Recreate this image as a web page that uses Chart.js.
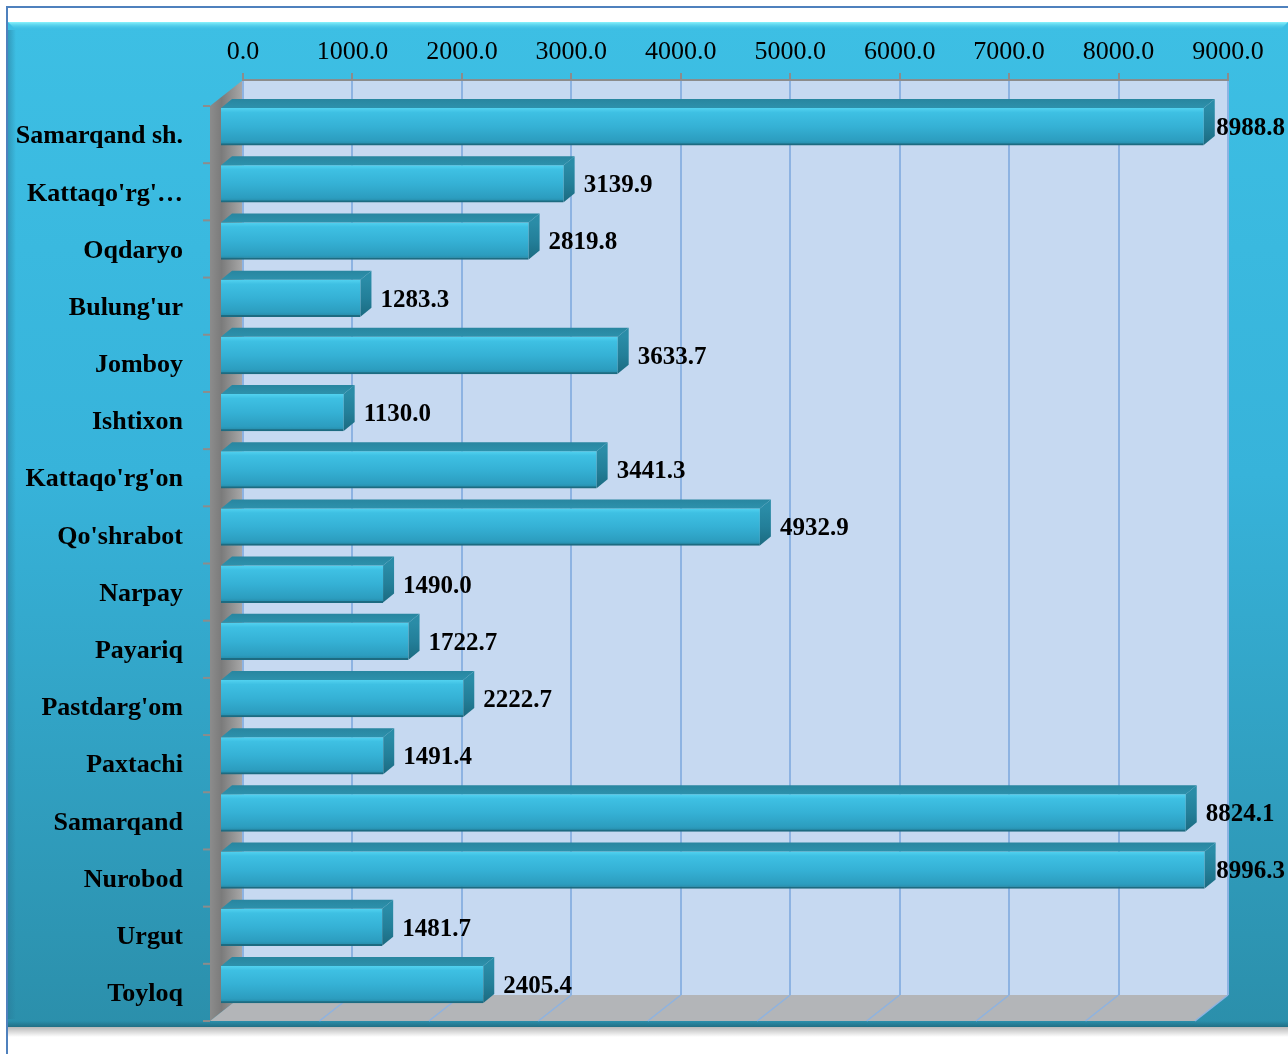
<!DOCTYPE html>
<html><head><meta charset="utf-8">
<script src="https://cdn.jsdelivr.net/npm/chart.js@4.4.1/dist/chart.umd.min.js"></script>
<style>html,body{margin:0;padding:0;background:#fff;overflow:hidden}#wrap{position:relative;width:1288px;height:1054px}</style>
</head><body><div id="wrap"><canvas id="c" width="1288" height="1054"></canvas></div>
<script>
const categories = ["Samarqand sh.","Kattaqo'rg'…","Oqdaryo","Bulung'ur","Jomboy","Ishtixon","Kattaqo'rg'on","Qo'shrabot","Narpay","Payariq","Pastdarg'om","Paxtachi","Samarqand","Nurobod","Urgut","Toyloq"];
const values = [8988.8,3139.9,2819.8,1283.3,3633.7,1130.0,3441.3,4932.9,1490.0,1722.7,2222.7,1491.4,8824.1,8996.3,1481.7,2405.4];
const axisMin = 0, axisMax = 9000, axisStep = 1000;

const SERIF = "'Liberation Serif','Times New Roman',serif";
const WALL_DX = -33, WALL_DY = 26;   // back plane -> front plane
const BAR_DX = -23, BAR_DY = 18;     // back plane -> bar front face
const BD_DX = 11, BD_DY = -9;        // bar depth
const BAR_H = 37;
const LABEL_GAP = 9;

function barGradient(c) {
  const chart = c.chart, ys = chart.scales && chart.scales.y;
  if (!chart.chartArea || !ys || c.dataIndex === undefined) return '#35b2d6';
  const yc = ys.getPixelForValue(c.dataIndex);
  const g = chart.ctx.createLinearGradient(0, yc - BAR_H / 2, 0, yc + BAR_H / 2);
  g.addColorStop(0, '#52d2f0');
  g.addColorStop(0.12, '#3ec0e3');
  g.addColorStop(0.5, '#35b1d5');
  g.addColorStop(0.88, '#2c9dbf');
  g.addColorStop(1, '#2588a5');
  return g;
}

const deco = {
  id: 'deco',
  beforeDraw(chart) {
    const ctx = chart.ctx, W = chart.width, H = chart.height;
    const {left, top, right, bottom} = chart.chartArea;
    const xs = chart.scales.x, ys = chart.scales.y;
    ctx.save();
    ctx.fillStyle = '#fff'; ctx.fillRect(0, 0, W, H);
    // outer frame
    ctx.strokeStyle = '#4f81bd'; ctx.lineWidth = 2;
    ctx.beginPath(); ctx.moveTo(7, H); ctx.lineTo(7, 7); ctx.lineTo(W, 7); ctx.stroke();
    // shadow under box
    const boxTop = 22, boxBot = bottom + WALL_DY + 6, boxL = 8;
    let sg = ctx.createLinearGradient(0, boxBot, 0, boxBot + 10);
    sg.addColorStop(0, 'rgba(0,0,0,0.28)'); sg.addColorStop(1, 'rgba(0,0,0,0)');
    ctx.fillStyle = sg; ctx.fillRect(boxL, boxBot, W - boxL, 10);
    // cyan box
    const g = ctx.createLinearGradient(0, boxTop, 0, boxBot);
    g.addColorStop(0, '#3dbfe4'); g.addColorStop(0.45, '#37b3da'); g.addColorStop(1, '#2b8fab');
    ctx.fillStyle = g; ctx.fillRect(boxL, boxTop, W - boxL, boxBot - boxTop);
    // top bevel
    const tb = ctx.createLinearGradient(0, boxTop, 0, boxTop + 8);
    tb.addColorStop(0, '#8af4fd'); tb.addColorStop(1, 'rgba(61,191,228,0)');
    ctx.fillStyle = tb;
    ctx.beginPath(); ctx.moveTo(boxL, boxTop); ctx.lineTo(W, boxTop); ctx.lineTo(W - 8, boxTop + 8); ctx.lineTo(boxL + 8, boxTop + 8); ctx.closePath(); ctx.fill();
    // left bevel
    const lb = ctx.createLinearGradient(boxL, 0, boxL + 8, 0);
    lb.addColorStop(0, 'rgba(40,120,150,0.5)'); lb.addColorStop(1, 'rgba(40,120,150,0)');
    ctx.fillStyle = lb; ctx.fillRect(boxL, boxTop + 8, 8, boxBot - boxTop - 16);
    // bottom edge
    const be = ctx.createLinearGradient(0, boxBot - 6, 0, boxBot);
    be.addColorStop(0, 'rgba(30,100,120,0)'); be.addColorStop(1, 'rgba(30,100,120,0.75)');
    ctx.fillStyle = be; ctx.fillRect(boxL, boxBot - 6, W - boxL, 6);
    // back wall
    ctx.fillStyle = '#c6d9f1'; ctx.fillRect(left, top, right - left, bottom - top);
    // left wall
    const lw = ctx.createLinearGradient(left + WALL_DX, 0, left, 0);
    lw.addColorStop(0, '#8c8c8c'); lw.addColorStop(0.35, '#7b7b7b'); lw.addColorStop(1, '#a9a9a9');
    ctx.fillStyle = lw;
    ctx.beginPath(); ctx.moveTo(left, top); ctx.lineTo(left + WALL_DX, top + WALL_DY);
    ctx.lineTo(left + WALL_DX, bottom + WALL_DY); ctx.lineTo(left, bottom); ctx.closePath(); ctx.fill();
    // floor
    ctx.fillStyle = '#b3b5b8';
    ctx.beginPath(); ctx.moveTo(left, bottom); ctx.lineTo(right, bottom);
    ctx.lineTo(right + WALL_DX, bottom + WALL_DY); ctx.lineTo(left + WALL_DX, bottom + WALL_DY); ctx.closePath(); ctx.fill();
    ctx.strokeStyle = '#8db3e2'; ctx.lineWidth = 1.5;
    xs.ticks.forEach(t => {
      const px = xs.getPixelForValue(t.value);
      if (px <= left + 1) return;
      ctx.beginPath(); ctx.moveTo(px, bottom); ctx.lineTo(px + WALL_DX, bottom + WALL_DY); ctx.stroke();
    });
    // row tick marks on front edge of left wall
    ctx.strokeStyle = '#8c8c8c'; ctx.lineWidth = 2;
    const n = categories.length, rowH = (bottom - top) / n;
    for (let i = 0; i <= n; i++) {
      const y = (i < n ? ys.getPixelForValue(i) - rowH / 2 : bottom) + WALL_DY;
      ctx.beginPath(); ctx.moveTo(left + WALL_DX - 7, y); ctx.lineTo(left + WALL_DX, y); ctx.stroke();
    }
    ctx.restore();
  },
  beforeDatasetsDraw(chart) {
    chart.ctx.save();
    chart.ctx.translate(BAR_DX, BAR_DY);
  },
  afterDatasetsDraw(chart) {
    const ctx = chart.ctx;
    const meta = chart.getDatasetMeta(0);
    meta.data.forEach(el => {
      const p = el.getProps(['x', 'y', 'base', 'height'], true);
      const t = p.y - p.height / 2, b = p.y + p.height / 2;
      // top face
      const tg = ctx.createLinearGradient(0, t + BD_DY, 0, t);
      tg.addColorStop(0, '#2886a0'); tg.addColorStop(1, '#2d91ac');
      ctx.fillStyle = tg;
      ctx.beginPath(); ctx.moveTo(p.base, t); ctx.lineTo(p.x, t); ctx.lineTo(p.x + BD_DX, t + BD_DY);
      ctx.lineTo(p.base + BD_DX, t + BD_DY); ctx.closePath(); ctx.fill();
      // end cap
      const cg = ctx.createLinearGradient(0, t, 0, b);
      cg.addColorStop(0, '#2a8ca7'); cg.addColorStop(0.5, '#237f99'); cg.addColorStop(1, '#1b6a80');
      ctx.fillStyle = cg;
      ctx.beginPath(); ctx.moveTo(p.x, t); ctx.lineTo(p.x + BD_DX, t + BD_DY);
      ctx.lineTo(p.x + BD_DX, b + BD_DY); ctx.lineTo(p.x, b); ctx.closePath(); ctx.fill();
    });
    ctx.restore();
    // value labels
    ctx.save();
    ctx.font = 'bold 25px ' + SERIF;
    ctx.fillStyle = '#000'; ctx.textAlign = 'left'; ctx.textBaseline = 'middle';
    meta.data.forEach((el, i) => {
      const p = el.getProps(['x', 'y'], true);
      const txt = values[i].toFixed(1);
      const w = ctx.measureText(txt).width;
      const x = Math.min(p.x + BAR_DX + BD_DX + LABEL_GAP, chart.width - w - 3);
      ctx.fillText(txt, x, p.y + BAR_DY + 2);
    });
    ctx.restore();
  }
};

new Chart(document.getElementById('c'), {
  type: 'bar',
  data: {
    labels: categories,
    datasets: [{
      data: values,
      backgroundColor: barGradient,
      borderColor: '#1d6b81',
      borderWidth: {top: 0, right: 0, bottom: 2, left: 0},
      borderSkipped: false,
      barThickness: BAR_H,
      clip: false
    }]
  },
  options: {
    indexAxis: 'y',
    responsive: false,
    animation: false,
    devicePixelRatio: 1,
    layout: {padding: {left: 10, top: 22, right: 60, bottom: 59}},
    plugins: {legend: {display: false}, tooltip: {enabled: false}},
    scales: {
      x: {
        position: 'top', min: axisMin, max: axisMax,
        ticks: {stepSize: axisStep, callback: v => Number(v).toFixed(1), color: '#000',
          font: {family: SERIF, size: 26}, padding: 5, maxRotation: 0, autoSkip: false},
        grid: {color: '#8db3e2', lineWidth: 2, tickColor: '#8c8c8c', tickLength: 7, tickWidth: 2},
        border: {color: '#8c8c8c', width: 2},
        afterFit: s => { s.height = 58; }
      },
      y: {
        ticks: {color: '#000', font: {family: SERIF, size: 26, weight: 'bold'}, padding: 60,
          labelOffset: 28, autoSkip: false},
        grid: {display: false, drawTicks: false},
        border: {display: false},
        afterFit: s => { s.width = 233; s.paddingTop = 0; s.paddingBottom = 0; }
      }
    }
  },
  plugins: [deco]
});
</script>
</body></html>
